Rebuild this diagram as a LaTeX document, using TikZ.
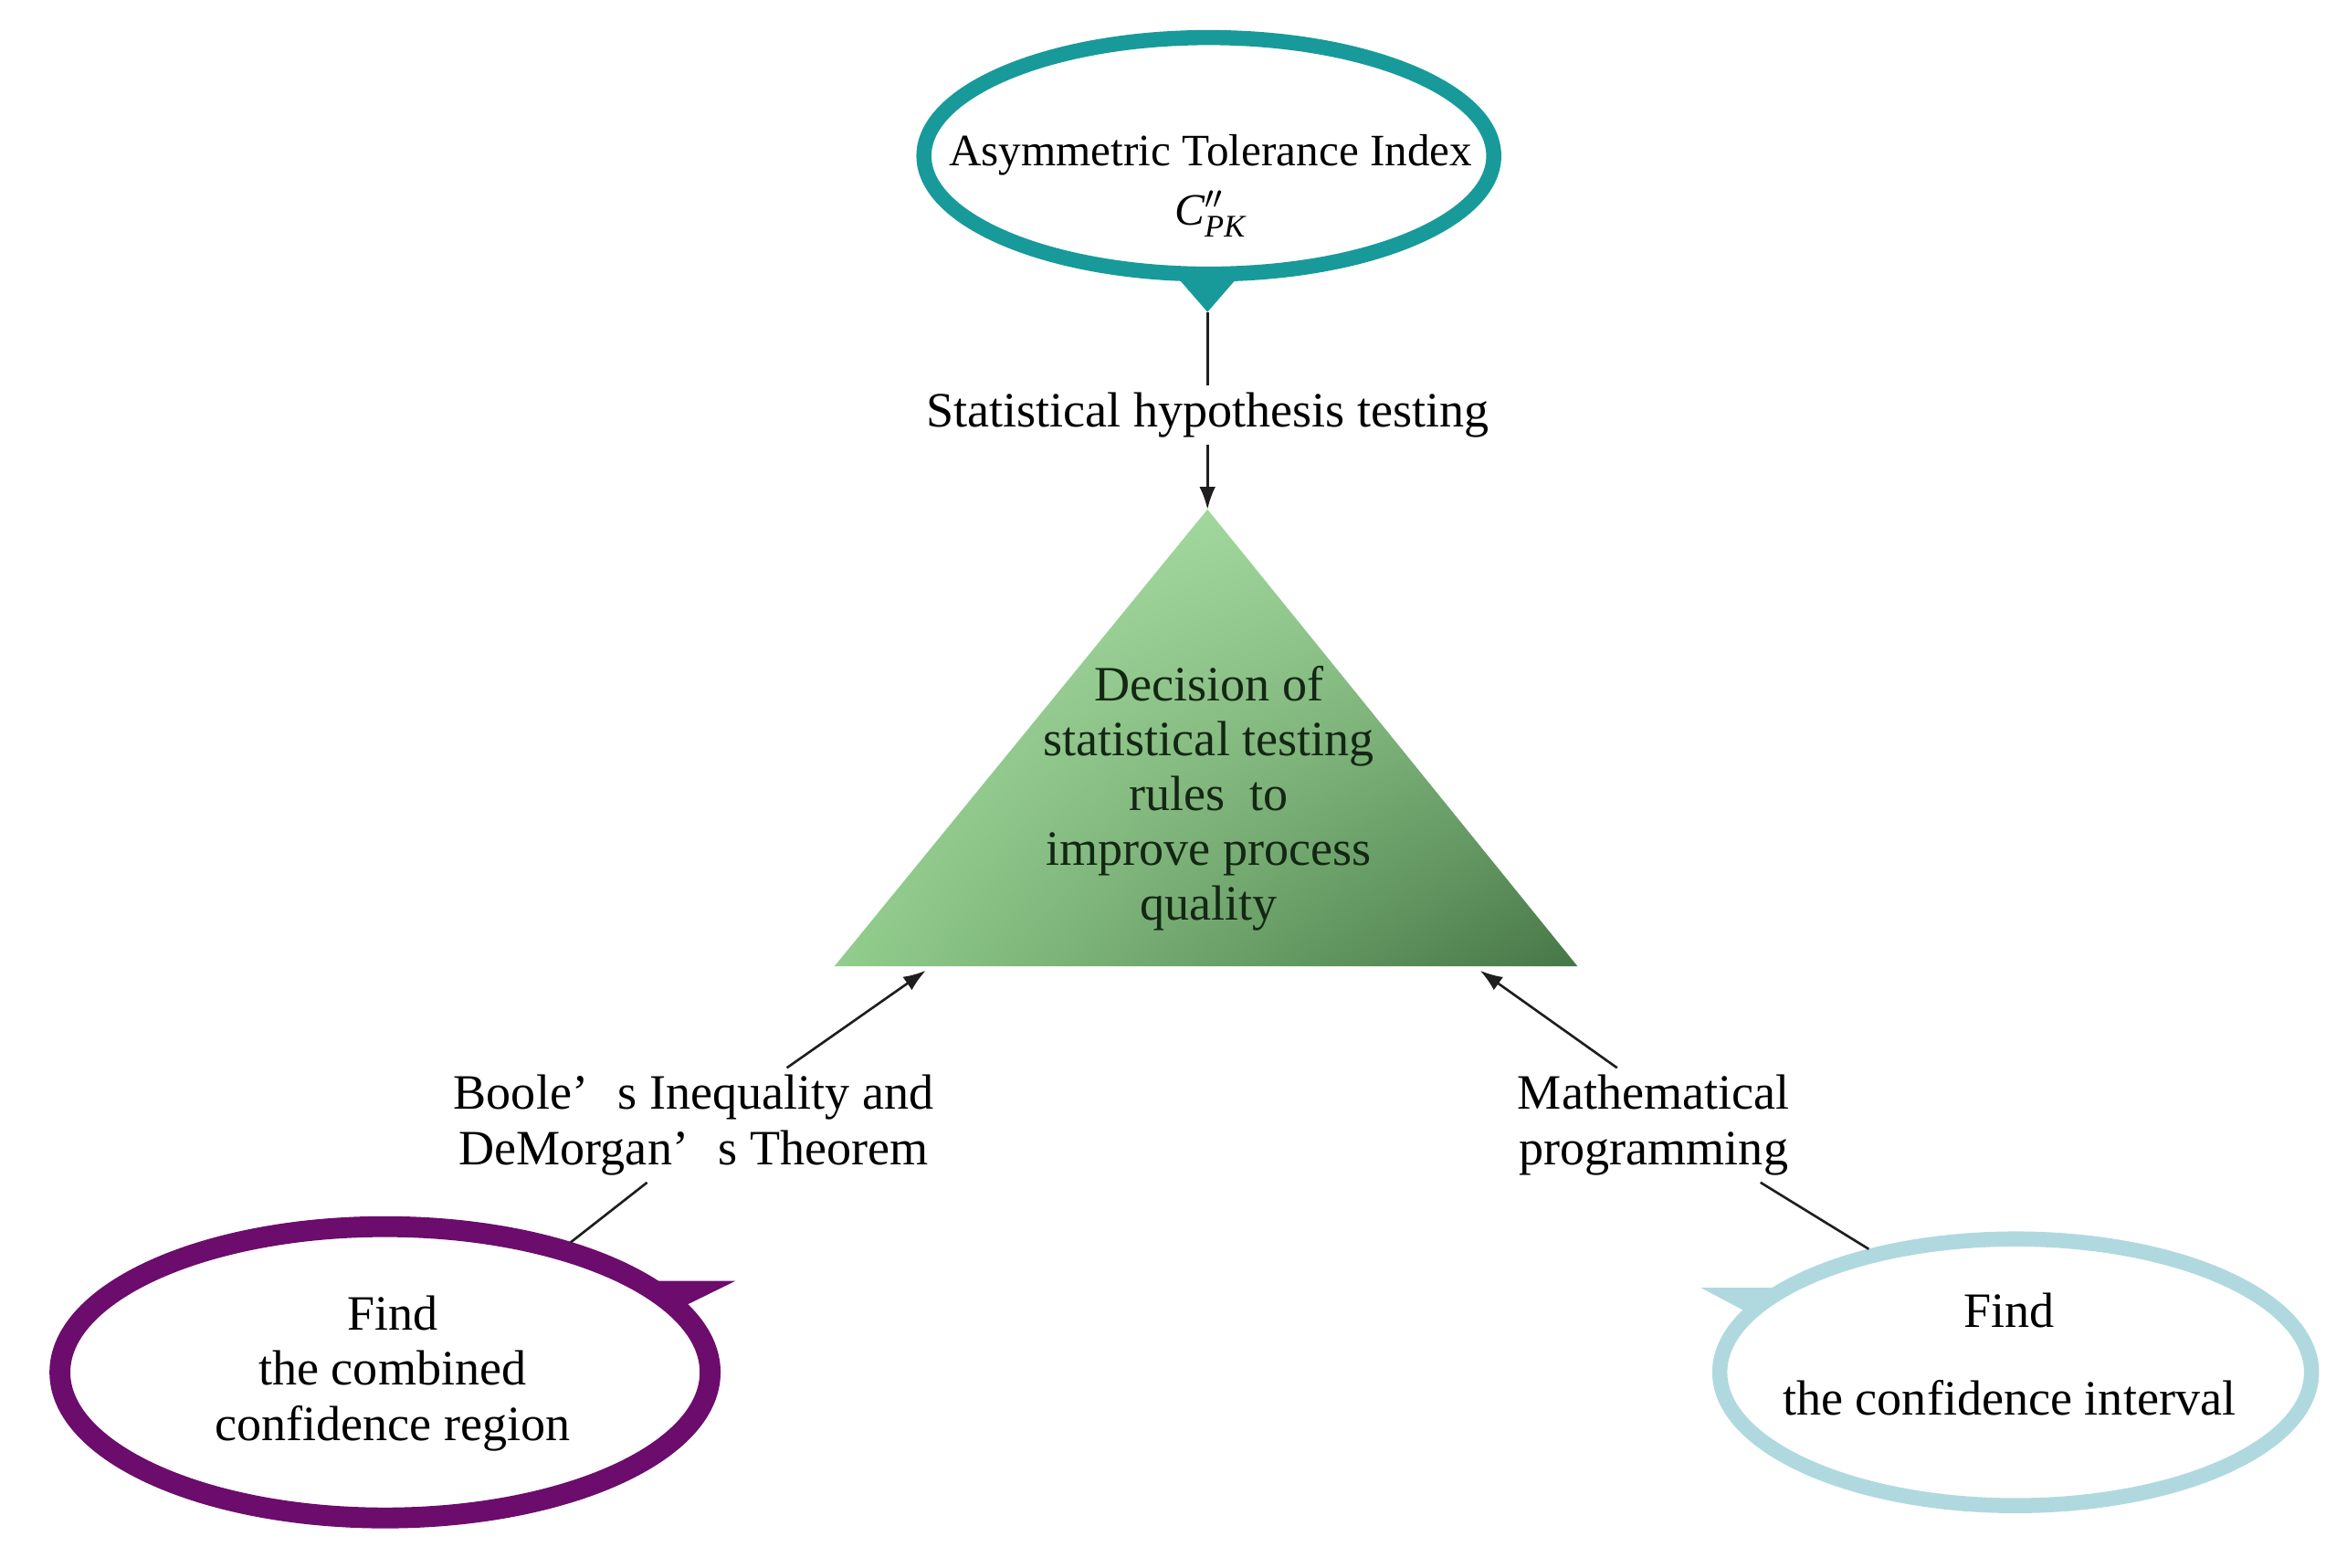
\documentclass[tikz,border=0pt]{standalone}
\usepackage{fontspec}
\setmainfont{Liberation Serif}
\usetikzlibrary{shapes.geometric,arrows.meta,shadings}

\definecolor{indexteal}{RGB}{24,154,154}
\definecolor{regionpurple}{RGB}{108,12,108}
\definecolor{intervalblue}{RGB}{176,217,223}
\definecolor{linkgray}{RGB}{30,30,30}
\definecolor{rulegreen}{RGB}{20,38,20}
\definecolor{greenA}{RGB}{174,225,168}
\definecolor{greenB}{RGB}{150,206,145}
\definecolor{greenC}{RGB}{146,205,141}
\definecolor{greenD}{RGB}{70,118,70}

\begin{document}
\begin{tikzpicture}[x=0.996cm,y=0.996cm,
  lbl/.style={align=center,inner sep=2pt,font=\fontsize{15.4}{17.3}\selectfont},
  bubble/.style={ellipse,draw,inner sep=0pt},
  link/.style={draw=linkgray,line width=0.75pt},
  arr/.style={link,-{Latex[length=7pt,width=5pt]}}
]
\useasboundingbox (0cm,0cm) rectangle (25.70cm,-17.16cm);

\coordinate (apex) at (13.275,-5.60);
\coordinate (bl) at (9.174,-10.623);
\coordinate (br) at (17.343,-10.623);
% tips of the side arrows
\coordinate (inl) at (10.178,-10.67);
\coordinate (inr) at (16.272,-10.67);

% callout points
\coordinate (t1) at (12.91,-3.01);
\coordinate (t2) at (13.64,-3.01);
\coordinate (idxtip) at (13.275,-3.43);
\coordinate (l1) at (7.11,-14.082);
\coordinate (l2) at (8.087,-14.082);
\coordinate (l3) at (7.52,-14.36);
\coordinate (r1) at (18.70,-14.158);
\coordinate (r2) at (19.60,-14.158);
\coordinate (r3) at (19.24,-14.444);

\shade[upper left=greenA,upper right=greenB,lower left=greenC,lower right=greenD] (apex)--(br)--(bl)--cycle;

\foreach \a/\b/\c/\col in {t1/t2/idxtip/indexteal,l1/l2/l3/regionpurple,r1/r2/r3/intervalblue}
\fill[\col] (\a)--(\b)--(\c)--cycle;

\node[bubble,draw=indexteal,line width=4.7pt,minimum width=6.24cm,minimum height=2.59cm] (index) at (13.29,-1.713) {};
\node[font=\fontsize{14}{18.7}\selectfont,align=center,inner sep=0pt] (indextxt) at (13.31,-2.04) {Asymmetric Tolerance Index\\ $\mathit{C}''_{\mathit{PK}}$};

\node[lbl] (sht) at (13.275,-4.56) {Statistical hypothesis testing};
\node[lbl,text=rulegreen,font=\fontsize{15.4}{17.1}\selectfont] (rules) at (13.29,-8.78) {Decision of\\ statistical testing\\ rules\ \ to\\ improve process\\ quality};
\node[lbl] (boole) at (7.626,-12.37) {Boole’\hspace{0.6em}s Inequality and\\ DeMorgan’\hspace{0.6em}s Theorem};
\node[lbl] (math) at (18.18,-12.37) {Mathematical\\ programming};

\node[bubble,draw=regionpurple,line width=6.5pt,minimum width=7.12cm,minimum height=3.19cm] (region) at (4.233,-15.087) {};
\node[lbl] (regiontxt) at (4.315,-15.10) {Find\\ the combined\\ confidence region};
\node[bubble,draw=intervalblue,line width=4.7pt,minimum width=6.48cm,minimum height=2.92cm] (interval) at (22.16,-15.087) {};
\node[lbl] (intervaltxt) at (22.09,-14.89) {Find\\[9.8pt] the confidence interval};

\draw[link] (idxtip) -- (sht.north);
\draw[arr] (sht.south) -- (apex);
\draw[arr] ([xshift=1.02cm]boole.north) -- (inl);
\draw[link] ([xshift=-0.51cm]boole.south) -- (region.35);
\draw[arr] ([xshift=-0.4cm]math.north) -- (inr);
\draw[link] ([xshift=1.17cm]math.south) -- (interval.140);
\end{tikzpicture}
\end{document}
